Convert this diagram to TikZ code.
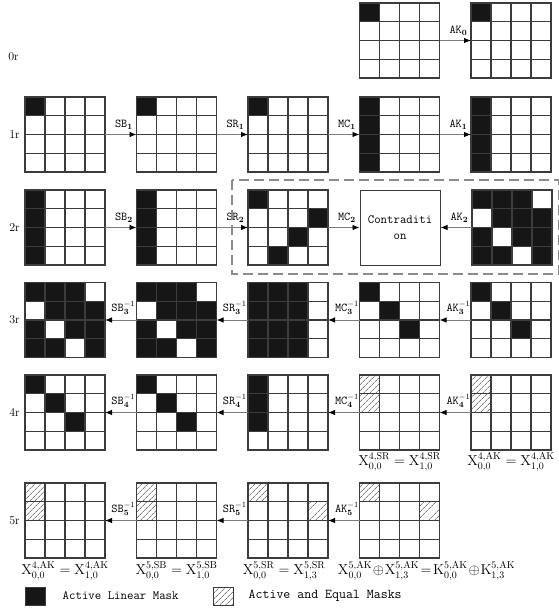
\documentclass[tikz,border=0pt]{standalone}
\usepackage{xcolor}
\usepackage{tikz}
\usetikzlibrary{arrows.meta, positioning, calc, patterns.meta}
\definecolor{cellon}{RGB}{22,22,22}
\definecolor{gridc}{RGB}{60,60,60}
\definecolor{arrc}{RGB}{125,125,125}
\definecolor{zonec}{RGB}{140,140,140}

% 4x4 state: #1 placement, #2 name, #3 active cells (row/col)
\newcommand{\statemat}[3]{%
  \node[mat, #1] (#2) {};
  \foreach \ri/\ci in {#3} {
    \fill[cellon] ($(#2.north west)+(\ci*20,\ri*18.75)$) rectangle ++(20,18.75);
  }
  \foreach \k in {1,2,3} {
    \draw[gridline] ($(#2.north west)+(\k*20,0)$) -- ++(0,75);
    \draw[gridline] ($(#2.north west)+(0,\k*18.75)$) -- ++(80,0);
  }
  \draw[gridline] (#2.north west) rectangle (#2.south east);
}
% hatched cell: #1 state, #2 row, #3 col
\newcommand{\eqcell}[3]{%
  \fill[eqfill] ($(#1.north west)+(#3*20,#2*18.75)$) rectangle ++(20,18.75);
}

\begin{document}
\begin{tikzpicture}[x=1pt, y=-1pt,
  mat/.style={minimum width=80pt, minimum height=75pt, inner sep=0pt, outer sep=0pt},
  gridline/.style={draw=gridc, line width=1.1pt},
  eqfill/.style={pattern={Lines[angle=45, distance=4pt, line width=0.6pt]}, pattern color=gridc},
  arr/.style={draw=arrc, line width=0.9pt, -{Latex[length=7pt, width=5.5pt, black]}},
  lbl/.style={font={\fontsize{12}{12}\selectfont\ttfamily}, inner sep=1pt},
  eq/.style={font={\fontsize{14}{14}\selectfont}, inner sep=0pt},
  rowlbl/.style={font={\fontsize{12}{12}\selectfont}, inner sep=0pt},
  block/.style={draw=gridc, line width=1pt, minimum width=80pt, minimum height=75pt, inner sep=0pt,
    align=center, font={\fontsize{12.5}{16}\selectfont\ttfamily}},
  zone/.style={draw=zonec, line width=1.4pt, dash pattern=on 10pt off 5pt},
  key/.style={minimum width=20pt, minimum height=18pt, inner sep=0pt, draw=gridc, line width=1pt},
  keytext/.style={font={\fontsize{12.5}{12.5}\selectfont\ttfamily}, inner sep=0pt}
]
\useasboundingbox (0,0) rectangle (559,610);

% round 0
\statemat{at={(399.5,40.5)}}{m04}{0/0}
\statemat{right=31.5pt of m04}{m05}{0/0}
\draw[arr] (m04.east) -- node[lbl, pos=0.6, above=4pt] (t05) {AK$_{\mathbf{0}}$} (m05.west);

% round 1
\statemat{at={(65,134.5)}}{m11}{0/0}
\statemat{right=31.5pt of m11}{m12}{0/0}
\statemat{right=31.5pt of m12}{m13}{0/0}
\statemat{right=31.5pt of m13}{m14}{0/0,1/0,2/0,3/0}
\statemat{right=31.5pt of m14}{m15}{0/0,1/0,2/0,3/0}
\draw[arr] (m11.east) -- node[lbl, pos=0.6, above=4pt] (t12) {SB$_{\mathbf{1}}$} (m12.west);
\draw[arr] (m12.east) -- node[lbl, pos=0.6, above=4pt] (t13) {SR$_{\mathbf{1}}$} (m13.west);
\draw[arr] (m13.east) -- node[lbl, pos=0.6, above=4pt] (t14) {MC$_{\mathbf{1}}$} (m14.west);
\draw[arr] (m14.east) -- node[lbl, pos=0.6, above=4pt] (t15) {AK$_{\mathbf{1}}$} (m15.west);

% round 2
\statemat{at={(65,227.5)}}{m21}{0/0,1/0,2/0,3/0}
\statemat{right=31.5pt of m21}{m22}{0/0,1/0,2/0,3/0}
\statemat{right=31.5pt of m22}{m23}{0/0,1/3,2/2,3/1}
\node[block, right=31.5pt of m23] (contra) {Contraditi\\on};
\statemat{right=31.5pt of contra}{m25}{0/0,0/1,0/2,1/1,1/2,1/3,2/0,2/2,2/3,3/0,3/1,3/3}
\draw[arr] (m21.east) -- node[lbl, pos=0.6, above=4pt] (t22) {SB$_{\mathbf{2}}$} (m22.west);
\draw[arr] (m22.east) -- node[lbl, pos=0.6, above=4pt] (t23) {SR$_{\mathbf{2}}$} (m23.west);
\draw[arr] (m23.east) -- node[lbl, pos=0.6, above=4pt] (t24) {MC$_{\mathbf{2}}$} (contra.west);
\draw[arr] (m25.west) -- node[lbl, pos=0.4, above=4pt] (t25) {AK$_{\mathbf{2}}$} (contra.east);
\draw[zone] ($(m23.north west)+(-16,-10)$) rectangle ($(m25.south east)+(7,9)$);

% round 3
\statemat{at={(65,320)}}{m31}{0/0,0/1,0/2,1/1,1/2,1/3,2/0,2/2,2/3,3/0,3/1,3/3}
\statemat{right=31.5pt of m31}{m32}{0/0,0/1,0/2,1/1,1/2,1/3,2/0,2/2,2/3,3/0,3/1,3/3}
\statemat{right=31.5pt of m32}{m33}{0/0,0/1,0/2,1/0,1/1,1/2,2/0,2/1,2/2,3/0,3/1,3/2}
\statemat{right=31.5pt of m33}{m34}{0/0,1/1,2/2}
\statemat{right=31.5pt of m34}{m35}{0/0,1/1,2/2}
\draw[arr] (m32.west) -- node[lbl, pos=0.42, above=4pt] (t31) {SB$^{-1}_{\mathbf{3}}$} (m31.east);
\draw[arr] (m33.west) -- node[lbl, pos=0.42, above=4pt] (t32) {SR$^{-1}_{\mathbf{3}}$} (m32.east);
\draw[arr] (m34.west) -- node[lbl, pos=0.4, above=4pt] (t33) {MC$^{-1}_{\mathbf{3}}$} (m33.east);
\draw[arr] (m35.west) -- node[lbl, pos=0.4, above=4pt] (t34) {AK$^{-1}_{\mathbf{3}}$} (m34.east);

% round 4
\statemat{at={(65,412.5)}}{m41}{0/0,1/1,2/2}
\statemat{right=31.5pt of m41}{m42}{0/0,1/1,2/2}
\statemat{right=31.5pt of m42}{m43}{0/0,1/0,2/0}
\statemat{right=31.5pt of m43}{m44}{}
\statemat{right=31.5pt of m44}{m45}{}
\eqcell{m44}{0}{0} \eqcell{m44}{1}{0}
\eqcell{m45}{0}{0} \eqcell{m45}{1}{0}
\draw[arr] (m42.west) -- node[lbl, pos=0.42, above=4pt] (t41) {SB$^{-1}_{\mathbf{4}}$} (m41.east);
\draw[arr] (m43.west) -- node[lbl, pos=0.42, above=4pt] (t42) {SR$^{-1}_{\mathbf{4}}$} (m42.east);
\draw[arr] (m44.west) -- node[lbl, pos=0.4, above=4pt] (t43) {MC$^{-1}_{\mathbf{4}}$} (m43.east);
\draw[arr] (m45.west) -- node[lbl, pos=0.4, above=4pt] (t44) {AK$^{-1}_{\mathbf{4}}$} (m44.east);
\node[eq, below=2pt of m44] (e44) {$\mathrm{X}^{4,\mathrm{SR}}_{0,0}=\mathrm{X}^{4,\mathrm{SR}}_{1,0}$};
\node[eq, below=2pt of m45] (e45) {$\mathrm{X}^{4,\mathrm{AK}}_{0,0}=\mathrm{X}^{4,\mathrm{AK}}_{1,0}$};

% round 5
\statemat{at={(65,520.5)}}{m51}{}
\statemat{right=31.5pt of m51}{m52}{}
\statemat{right=31.5pt of m52}{m53}{}
\statemat{right=31.5pt of m53}{m54}{}
\eqcell{m51}{0}{0} \eqcell{m51}{1}{0}
\eqcell{m52}{0}{0} \eqcell{m52}{1}{0}
\eqcell{m53}{0}{0} \eqcell{m53}{1}{3}
\eqcell{m54}{0}{0} \eqcell{m54}{1}{3}
\draw[arr] (m52.west) -- node[lbl, pos=0.42, above=4pt] (t51) {SB$^{-1}_{\mathbf{5}}$} (m51.east);
\draw[arr] (m53.west) -- node[lbl, pos=0.42, above=4pt] (t52) {SR$^{-1}_{\mathbf{5}}$} (m52.east);
\draw[arr] (m54.west) -- node[lbl, pos=0.4, above=4pt] (t53) {AK$^{-1}_{\mathbf{5}}$} (m53.east);
\node[eq, below=3pt of m51] (e51) {$\mathrm{X}^{4,\mathrm{AK}}_{0,0}=\mathrm{X}^{4,\mathrm{AK}}_{1,0}$};
\node[eq, below=3pt of m52] (e52) {$\mathrm{X}^{5,\mathrm{SB}}_{0,0}=\mathrm{X}^{5,\mathrm{SB}}_{1,0}$};
\node[eq, below=3pt of m53, xshift=-4pt] (e53) {$\mathrm{X}^{5,\mathrm{SR}}_{0,0}=\mathrm{X}^{5,\mathrm{SR}}_{1,3}$};
\node[eq, below=3pt of m54, xshift=27pt] (e54) {\medmuskip=1mu\thickmuskip=2mu
  $\mathrm{X}^{5,\mathrm{AK}}_{0,0}\oplus\mathrm{X}^{5,\mathrm{AK}}_{1,3}=\mathrm{K}^{5,\mathrm{AK}}_{0,0}\oplus\mathrm{K}^{5,\mathrm{AK}}_{1,3}$};

% rounds
\node[rowlbl] (r0) at (13.5,57) {0r};
\node[rowlbl, left=5pt of m11] (r1) {1r};
\node[rowlbl, left=5pt of m21] (r2) {2r};
\node[rowlbl, left=5pt of m31] (r3) {3r};
\node[rowlbl, left=5pt of m41] (r4) {4r};
\node[rowlbl, left=5pt of m51] (r5) {5r};

% legend
\node[key, fill=cellon] (keyon) at (35,596) {};
\node[keytext, right=17pt of keyon] (keyontext) {Active Linear Mask};
\node[key, eqfill] (keyeq) at (223,596) {};
\node[keytext, font={\fontsize{13.5}{13.5}\selectfont\ttfamily}, right=15pt of keyeq] (keyeqtext) {Active and Equal Masks};
\end{tikzpicture}
\end{document}
